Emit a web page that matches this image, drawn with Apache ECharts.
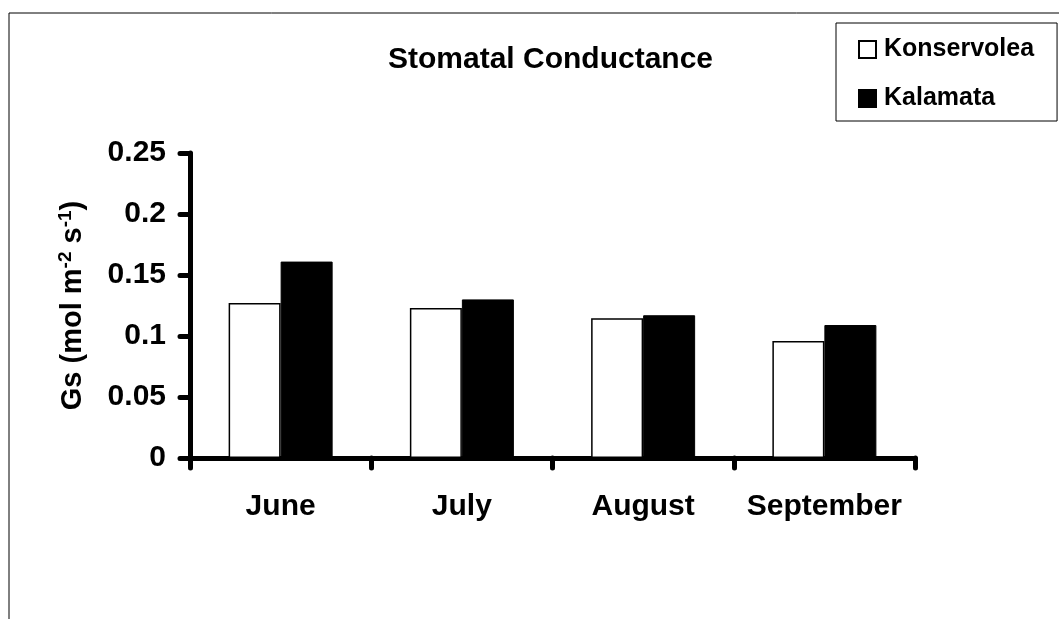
<!DOCTYPE html>
<html>
<head>
<meta charset="utf-8">
<script src="https://cdn.jsdelivr.net/npm/echarts@6/dist/echarts.min.js"></script>
<style>
  html, body { margin: 0; padding: 0; background: #fff; }
  #chart { width: 1059px; height: 619px; }
</style>
</head>
<body>
<div id="chart"></div>
<script>
// data
const months = ['June', 'July', 'August', 'September'];
const konservolea = [0.127, 0.123, 0.1145, 0.096];
const kalamata = [0.161, 0.130, 0.117, 0.109];
const yTicks = { min: 0, max: 0.25, interval: 0.05 };

const font = 'Liberation Sans, Arial, sans-serif';

const myChart = echarts.init(document.getElementById('chart'));

myChart.setOption({
  animation: false,
  backgroundColor: '#fff',
  title: {
    text: 'Stomatal Conductance',
    left: 383,
    top: 40,
    textStyle: { fontFamily: font, fontWeight: 'bold', fontSize: 30, color: '#000' }
  },
  legend: {
    orient: 'vertical',
    left: 836,
    top: 23,
    padding: [14, 23, 10, 22],
    itemGap: 24,
    itemWidth: 17,
    itemHeight: 17,
    icon: 'rect',
    borderColor: '#000',
    borderWidth: 1,
    textStyle: { fontFamily: font, fontWeight: 'bold', fontSize: 25, color: '#000', padding: [0, 0, 0, 3] },
    data: ['Konservolea', 'Kalamata']
  },
  grid: { left: 190, right: 144, top: 153, bottom: 161 },
  xAxis: {
    type: 'category',
    data: months,
    axisLine: { lineStyle: { color: '#000', width: 5, cap: 'round' } },
    axisTick: { show: true, interval: 0, length: 10, lineStyle: { color: '#000', width: 5, cap: 'round' } },
    axisLabel: { interval: 0, margin: 34, fontFamily: font, fontWeight: 'bold', fontSize: 30, color: '#000' }
  },
  yAxis: {
    type: 'value',
    min: yTicks.min,
    max: yTicks.max,
    interval: yTicks.interval,
    name: '{b|Gs (mol m}{s|-2}{b| s}{s|-1}{b|)}',
    nameLocation: 'middle',
    nameGap: 101,
    nameRotate: 90,
    nameTextStyle: {
      rich: {
        b: { fontFamily: font, fontWeight: 'bold', fontSize: 29, color: '#000' },
        s: { fontFamily: font, fontWeight: 'bold', fontSize: 19, color: '#000', verticalAlign: 'top', padding: [0, 0, 14, 0] }
      }
    },
    splitLine: { show: false },
    axisLine: { show: true, lineStyle: { color: '#000', width: 5, cap: 'round' } },
    axisTick: { show: true, length: 10, lineStyle: { color: '#000', width: 5, cap: 'round' } },
    axisLabel: {
      margin: 24,
      fontFamily: font, fontWeight: 'bold', fontSize: 30, color: '#000',
      formatter: v => String(+v.toFixed(2))
    }
  },
  graphic: [
    { type: 'line', shape: { x1: 9, y1: 13, x2: 1059, y2: 13 }, style: { stroke: '#000', lineWidth: 1 } },
    { type: 'line', shape: { x1: 9, y1: 13, x2: 9, y2: 619 }, style: { stroke: '#000', lineWidth: 1 } }
  ],
  series: [
    {
      name: 'Konservolea',
      type: 'bar',
      data: konservolea,
      barWidth: 52,
      barGap: '0%',
      itemStyle: { color: '#fff', borderColor: '#000', borderWidth: 1.5 }
    },
    {
      name: 'Kalamata',
      type: 'bar',
      data: kalamata,
      barWidth: 52,
      barGap: '0%',
      itemStyle: { color: '#000', borderColor: '#000', borderWidth: 1 }
    }
  ]
});
</script>
</body>
</html>
